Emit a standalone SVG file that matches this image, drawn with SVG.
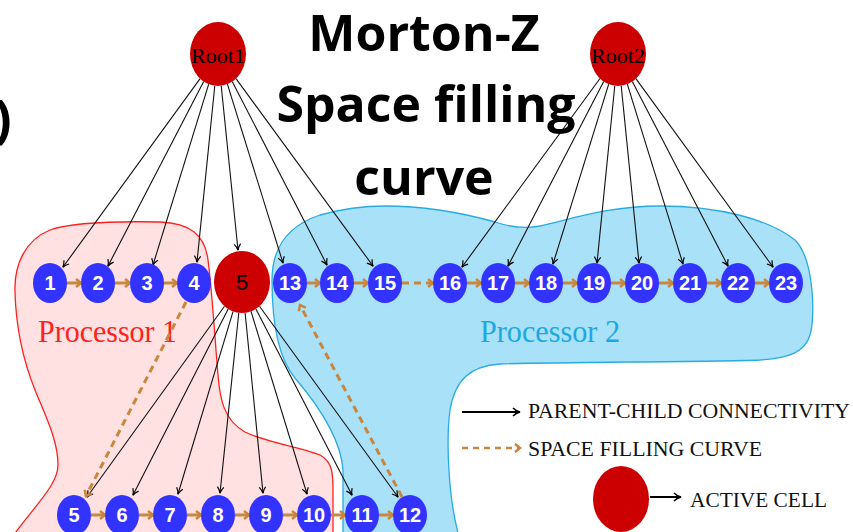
<svg xmlns="http://www.w3.org/2000/svg" width="853" height="532" viewBox="0 0 853 532">
<defs>
<style>
.bn{fill:#3333ff}
.rn{fill:#cc0000}
.bl{fill:#ffffff;font-family:"Liberation Sans",Arial,sans-serif;font-weight:bold;font-size:20px;text-anchor:middle}
.rl{fill:#000;font-family:"Liberation Serif","Times New Roman",serif;font-size:22px;text-anchor:middle}
.pc{stroke:#111;stroke-width:1.1;fill:none;marker-end:url(#ab)}
.sf{stroke:#c8863e;stroke-width:3;fill:none;marker-end:url(#ob)}
.sfd{stroke:#c8863e;stroke-width:3;fill:none;stroke-dasharray:7 5;marker-end:url(#ob)}
.title{font-family:"Open Sans","Liberation Sans",sans-serif;font-weight:bold;font-size:50px;fill:#000;text-anchor:middle}
.leg{font-family:"Liberation Serif","Times New Roman",serif;font-size:21px;fill:#111}
</style>
<marker id="ab" viewBox="0 0 8 8" refX="7" refY="4" markerWidth="8" markerHeight="8" markerUnits="userSpaceOnUse" orient="auto">
<path d="M1,0.8 Q4,3.3 7.3,4 Q4,4.7 1,7.2" fill="none" stroke="#000" stroke-width="1.2"/>
</marker>
<marker id="ab2" viewBox="0 0 10 10" refX="9" refY="5" markerWidth="10" markerHeight="10" markerUnits="userSpaceOnUse" orient="auto">
<path d="M2,1 Q5,4 9,5 Q5,6 2,9" fill="none" stroke="#000" stroke-width="1.6"/>
</marker>
<marker id="ob" viewBox="0 0 10 10" refX="8" refY="5" markerWidth="10" markerHeight="10" markerUnits="userSpaceOnUse" orient="auto">
<path d="M3,1 L8,5 L3,9" fill="none" stroke="#c8863e" stroke-width="2.5"/>
</marker>
</defs>
<rect width="853" height="532" fill="#ffffff"/>

<g id="processor1">
<path d="M15,292 C14,265 25,240 50,230 C70,223 110,221 160,222 C190,223 205,235 208,260 C212,290 215,340 218,375 C220,400 224,420 245,432 C265,442 300,447 320,455 C333,462 333,475 333,490 L333,540 L10,540 C35,505 58,485 58,465 C58,440 45,415 35,390 C25,365 16,330 15,292 Z" fill="#ffe1e1" stroke="#ff2020" stroke-width="1.3"/>
<text x="38" y="342" font-family="'Liberation Serif','Times New Roman',serif" font-size="31" fill="#ff2020" textLength="139" lengthAdjust="spacingAndGlyphs">Processor 1</text>
</g>
<g id="processor2">
<path d="M343,540 L343,470 C341,440 318,405 295,378 C278,358 272,320 272,280 C272,245 290,225 320,215 C345,208 365,206 385,206 C430,206 470,215 495,222 C510,227 525,229 540,226 C575,218 610,206 660,206 C720,206 770,220 795,240 C815,260 815,320 810,335 C805,352 790,358 760,360 C700,362 560,362 500,364 C470,366 455,380 450,410 C446,440 448,500 460,540 Z" fill="#a8e1f8" stroke="#29abe2" stroke-width="1.3"/>
<text x="480" y="342" font-family="'Liberation Serif','Times New Roman',serif" font-size="31" fill="#1ca8e0" textLength="140" lengthAdjust="spacingAndGlyphs">Processor 2</text>
</g>

<g id="connectors">
<line class="pc" x1="200.1" y1="78.6" x2="63" y2="267"/>
<line class="pc" x1="203.7" y1="81.5" x2="108" y2="266"/>
<line class="pc" x1="208.7" y1="84.2" x2="153" y2="265"/>
<line class="pc" x1="214.8" y1="85.8" x2="197" y2="262"/>
<line class="pc" x1="221.2" y1="85.8" x2="238" y2="250"/>
<line class="pc" x1="227.4" y1="84.2" x2="283" y2="263"/>
<line class="pc" x1="232.2" y1="81.6" x2="327" y2="265"/>
<line class="pc" x1="236" y1="78.6" x2="373" y2="266"/>
<line class="pc" x1="600" y1="78.5" x2="462" y2="267"/>
<line class="pc" x1="603.7" y1="81.5" x2="508" y2="266"/>
<line class="pc" x1="608.7" y1="84.2" x2="553" y2="264"/>
<line class="pc" x1="614.8" y1="85.8" x2="597" y2="263"/>
<line class="pc" x1="621.2" y1="85.8" x2="639" y2="263"/>
<line class="pc" x1="627.3" y1="84.2" x2="683" y2="264"/>
<line class="pc" x1="632.3" y1="81.5" x2="728" y2="266"/>
<line class="pc" x1="635.9" y1="78.6" x2="773" y2="267"/>
<line class="pc" x1="224.5" y1="306.2" x2="87" y2="497"/>
<line class="pc" x1="228.2" y1="309" x2="133" y2="495"/>
<line class="pc" x1="233.1" y1="311.4" x2="178" y2="494"/>
<line class="pc" x1="238.8" y1="312.8" x2="220" y2="493"/>
<line class="pc" x1="245.1" y1="312.8" x2="263" y2="493"/>
<line class="pc" x1="251" y1="311.4" x2="307" y2="494"/>
<line class="pc" x1="255.9" y1="308.9" x2="352" y2="495"/>
<line class="pc" x1="259.5" y1="306.2" x2="398" y2="497"/>
<line class="sf" x1="67" y1="283" x2="81" y2="283"/>
<line class="sf" x1="115" y1="283" x2="130" y2="283"/>
<line class="sf" x1="164" y1="283" x2="177" y2="283"/>
<line class="sf" x1="307" y1="283" x2="320" y2="283"/>
<line class="sf" x1="354" y1="283" x2="368" y2="283"/>
<line class="sfd" x1="402" y1="283" x2="433" y2="283"/>
<line class="sf" x1="467" y1="283" x2="481" y2="283"/>
<line class="sf" x1="515" y1="283" x2="529" y2="283"/>
<line class="sf" x1="563" y1="283" x2="577" y2="283"/>
<line class="sf" x1="611" y1="283" x2="625" y2="283"/>
<line class="sf" x1="659" y1="283" x2="673" y2="283"/>
<line class="sf" x1="707" y1="283" x2="721" y2="283"/>
<line class="sf" x1="755" y1="283" x2="769" y2="283"/>
<line class="sf" x1="91" y1="515" x2="105" y2="515"/>
<line class="sf" x1="139" y1="515" x2="153" y2="515"/>
<line class="sf" x1="187" y1="515" x2="201" y2="515"/>
<line class="sf" x1="235" y1="515" x2="249" y2="515"/>
<line class="sf" x1="283" y1="515" x2="297" y2="515"/>
<line class="sf" x1="331" y1="515" x2="345" y2="515"/>
<line class="sf" x1="379" y1="515" x2="393" y2="515"/>
<line class="sfd" x1="186" y1="302" x2="86" y2="496"/>
<line class="sfd" x1="402" y1="497" x2="300" y2="305"/>
</g>

<g id="root1"><ellipse class="rn" cx="218" cy="54" rx="28" ry="32"/><text class="rl" x="218" y="63">Root1</text></g>
<g id="root2"><ellipse class="rn" cx="618" cy="54" rx="28" ry="32"/><text class="rl" x="618" y="63">Root2</text></g>

<g id="n1"><ellipse class="bn" cx="50" cy="283" rx="17" ry="20"/><text class="bl" x="50" y="290">1</text></g>
<g id="n2"><ellipse class="bn" cx="98" cy="283" rx="17" ry="20"/><text class="bl" x="98" y="290">2</text></g>
<g id="n3"><ellipse class="bn" cx="147" cy="283" rx="17" ry="20"/><text class="bl" x="147" y="290">3</text></g>
<g id="n4"><ellipse class="bn" cx="194" cy="283" rx="17" ry="20"/><text class="bl" x="194" y="290">4</text></g>
<g id="c5"><ellipse class="rn" cx="242" cy="282" rx="28" ry="31"/><text x="242" y="290" font-family="'Liberation Sans',Arial,sans-serif" font-size="22" fill="#000" text-anchor="middle">5</text></g>
<g id="n13"><ellipse class="bn" cx="290" cy="283" rx="17" ry="20"/><text class="bl" x="290" y="290">13</text></g>
<g id="n14"><ellipse class="bn" cx="337" cy="283" rx="17" ry="20"/><text class="bl" x="337" y="290">14</text></g>
<g id="n15"><ellipse class="bn" cx="385" cy="283" rx="17" ry="20"/><text class="bl" x="385" y="290">15</text></g>
<g id="n16"><ellipse class="bn" cx="450" cy="283" rx="17" ry="20"/><text class="bl" x="450" y="290">16</text></g>
<g id="n17"><ellipse class="bn" cx="498" cy="283" rx="17" ry="20"/><text class="bl" x="498" y="290">17</text></g>
<g id="n18"><ellipse class="bn" cx="546" cy="283" rx="17" ry="20"/><text class="bl" x="546" y="290">18</text></g>
<g id="n19"><ellipse class="bn" cx="594" cy="283" rx="17" ry="20"/><text class="bl" x="594" y="290">19</text></g>
<g id="n20"><ellipse class="bn" cx="642" cy="283" rx="17" ry="20"/><text class="bl" x="642" y="290">20</text></g>
<g id="n21"><ellipse class="bn" cx="690" cy="283" rx="17" ry="20"/><text class="bl" x="690" y="290">21</text></g>
<g id="n22"><ellipse class="bn" cx="738" cy="283" rx="17" ry="20"/><text class="bl" x="738" y="290">22</text></g>
<g id="n23"><ellipse class="bn" cx="786" cy="283" rx="17" ry="20"/><text class="bl" x="786" y="290">23</text></g>

<g id="m5"><ellipse class="bn" cx="74" cy="515" rx="17" ry="20"/><text class="bl" x="74" y="522">5</text></g>
<g id="m6"><ellipse class="bn" cx="122" cy="515" rx="17" ry="20"/><text class="bl" x="122" y="522">6</text></g>
<g id="m7"><ellipse class="bn" cx="170" cy="515" rx="17" ry="20"/><text class="bl" x="170" y="522">7</text></g>
<g id="m8"><ellipse class="bn" cx="218" cy="515" rx="17" ry="20"/><text class="bl" x="218" y="522">8</text></g>
<g id="m9"><ellipse class="bn" cx="266" cy="515" rx="17" ry="20"/><text class="bl" x="266" y="522">9</text></g>
<g id="m10"><ellipse class="bn" cx="314" cy="515" rx="17" ry="20"/><text class="bl" x="314" y="522">10</text></g>
<g id="m11"><ellipse class="bn" cx="362" cy="515" rx="17" ry="20"/><text class="bl" x="362" y="522">11</text></g>
<g id="m12"><ellipse class="bn" cx="410" cy="515" rx="17" ry="20"/><text class="bl" x="410" y="522">12</text></g>

<g id="title">
<text class="title" x="424" y="51">Morton-Z</text>
<text class="title" x="426" y="122">Space filling</text>
<text class="title" x="424" y="195">curve</text>
<text x="-6" y="137" font-family="'Open Sans','Liberation Sans',sans-serif" font-weight="bold" font-size="52" fill="#000">)</text>
</g>

<g id="legend">
<line x1="462" y1="412" x2="520" y2="412" stroke="#000" stroke-width="2" marker-end="url(#ab2)"/>
<text class="leg" x="528" y="418" textLength="322" lengthAdjust="spacingAndGlyphs">PARENT-CHILD CONNECTIVITY</text>
<line x1="462" y1="448" x2="520" y2="448" stroke="#c8863e" stroke-width="2.5" stroke-dasharray="6 5" marker-end="url(#ob)"/>
<text class="leg" x="528" y="456" textLength="234" lengthAdjust="spacingAndGlyphs">SPACE FILLING CURVE</text>
<ellipse class="rn" cx="621" cy="499" rx="28" ry="33"/>
<line x1="650" y1="497" x2="681" y2="497" stroke="#000" stroke-width="2" marker-end="url(#ab2)"/>
<text class="leg" x="690" y="507" textLength="137" lengthAdjust="spacingAndGlyphs">ACTIVE CELL</text>
</g>
</svg>
